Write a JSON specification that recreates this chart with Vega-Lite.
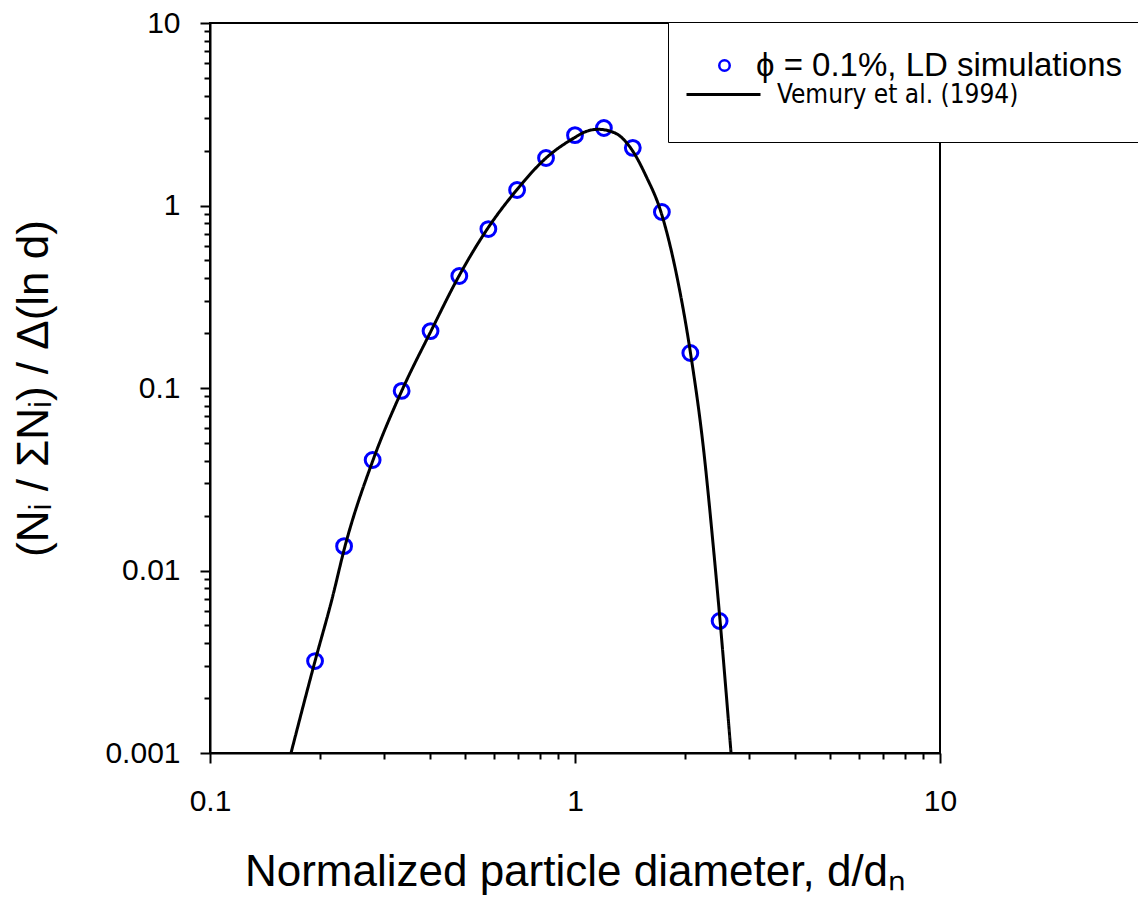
{
  "$schema": "https://vega.github.io/schema/vega-lite/v6.json",
  "width": 730,
  "height": 730,
  "autosize": "none",
  "padding": {"left": 210, "top": 23, "right": 198, "bottom": 146},
  "background": "white",
  "config": {
    "view": {"stroke": "black", "strokeWidth": 2},
    "font": "Liberation Sans, Arial, sans-serif"
  },
  "datasets": {
    "sim": [
      {"d": 0.194, "n": 0.00319, "series": "ϕ = 0.1%, LD simulations"},
      {"d": 0.233, "n": 0.0136, "series": "ϕ = 0.1%, LD simulations"},
      {"d": 0.279, "n": 0.0403, "series": "ϕ = 0.1%, LD simulations"},
      {"d": 0.335, "n": 0.0964, "series": "ϕ = 0.1%, LD simulations"},
      {"d": 0.402, "n": 0.205, "series": "ϕ = 0.1%, LD simulations"},
      {"d": 0.482, "n": 0.411, "series": "ϕ = 0.1%, LD simulations"},
      {"d": 0.579, "n": 0.743, "series": "ϕ = 0.1%, LD simulations"},
      {"d": 0.694, "n": 1.216, "series": "ϕ = 0.1%, LD simulations"},
      {"d": 0.833, "n": 1.82, "series": "ϕ = 0.1%, LD simulations"},
      {"d": 1.0, "n": 2.43, "series": "ϕ = 0.1%, LD simulations"},
      {"d": 1.2, "n": 2.66, "series": "ϕ = 0.1%, LD simulations"},
      {"d": 1.44, "n": 2.07, "series": "ϕ = 0.1%, LD simulations"},
      {"d": 1.73, "n": 0.921, "series": "ϕ = 0.1%, LD simulations"},
      {"d": 2.07, "n": 0.1555, "series": "ϕ = 0.1%, LD simulations"},
      {"d": 2.49, "n": 0.00529, "series": "ϕ = 0.1%, LD simulations"}
    ],
    "fit": [
      {"d": 0.1667, "n": 0.001, "model": "Vemury et al. (1994)"},
      {"d": 0.194, "n": 0.00319, "model": "Vemury et al. (1994)"},
      {"d": 0.2156, "n": 0.00689, "model": "Vemury et al. (1994)"},
      {"d": 0.2344, "n": 0.0136, "model": "Vemury et al. (1994)"},
      {"d": 0.2797, "n": 0.0403, "model": "Vemury et al. (1994)"},
      {"d": 0.3351, "n": 0.0963, "model": "Vemury et al. (1994)"},
      {"d": 0.4031, "n": 0.205, "model": "Vemury et al. (1994)"},
      {"d": 0.481, "n": 0.411, "model": "Vemury et al. (1994)"},
      {"d": 0.5775, "n": 0.753, "model": "Vemury et al. (1994)"},
      {"d": 0.6921, "n": 1.216, "model": "Vemury et al. (1994)"},
      {"d": 0.8313, "n": 1.814, "model": "Vemury et al. (1994)"},
      {"d": 0.9938, "n": 2.344, "model": "Vemury et al. (1994)"},
      {"d": 1.072, "n": 2.544, "model": "Vemury et al. (1994)"},
      {"d": 1.156, "n": 2.615, "model": "Vemury et al. (1994)"},
      {"d": 1.287, "n": 2.496, "model": "Vemury et al. (1994)"},
      {"d": 1.433, "n": 2.014, "model": "Vemury et al. (1994)"},
      {"d": 1.565, "n": 1.451, "model": "Vemury et al. (1994)"},
      {"d": 1.72, "n": 0.921, "model": "Vemury et al. (1994)"},
      {"d": 1.891, "n": 0.432, "model": "Vemury et al. (1994)"},
      {"d": 2.066, "n": 0.1615, "model": "Vemury et al. (1994)"},
      {"d": 2.246, "n": 0.0477, "model": "Vemury et al. (1994)"},
      {"d": 2.393, "n": 0.0135, "model": "Vemury et al. (1994)"},
      {"d": 2.496, "n": 0.00536, "model": "Vemury et al. (1994)"},
      {"d": 2.676, "n": 0.001, "model": "Vemury et al. (1994)"}
    ]
  },
  "encoding": {
    "x": {
      "field": "d",
      "type": "quantitative",
      "scale": {"type": "log", "domain": [0.1, 10], "nice": false},
      "axis": {
        "title": "Normalized particle diameter, d/dₙ",
        "values": [0.1, 0.2, 0.3, 0.4, 0.5, 0.6, 0.7, 0.8, 0.9, 1, 2, 3, 4, 5, 6, 7, 8, 9, 10],
        "format": "~g",
        "labelExpr": "abs(log(datum.value)/LN10 - round(log(datum.value)/LN10)) < 0.000001 ? datum.label : ''",
        "labelOverlap": false,
        "labelFlush": false,
        "labelFont": "Liberation Sans, Arial, sans-serif",
        "labelFontSize": 30,
        "labelColor": "black",
        "labelPadding": 23,
        "tickSize": {"condition": {"test": "abs(log(datum.value)/LN10 - round(log(datum.value)/LN10)) < 0.000001", "value": 10}, "value": 6},
        "tickWidth": 2,
        "tickColor": "black",
        "domainColor": "black",
        "domainWidth": 2,
        "grid": false,
        "titleFont": "Liberation Sans, Arial, sans-serif",
        "titleFontSize": 44,
        "titleFontWeight": "normal",
        "titleColor": "black",
        "titleBaseline": "alphabetic",
        "titleAlign": "center",
        "titleX": 365,
        "titleY": 132
      }
    },
    "y": {
      "field": "n",
      "type": "quantitative",
      "scale": {"type": "log", "domain": [0.001, 10], "nice": false},
      "axis": {
        "title": "(Nᵢ / ΣNᵢ) / Δ(ln d)",
        "values": [0.001, 0.002, 0.003, 0.004, 0.005, 0.006, 0.007, 0.008, 0.009, 0.01, 0.02, 0.03, 0.04, 0.05, 0.06, 0.07, 0.08, 0.09, 0.1, 0.2, 0.3, 0.4, 0.5, 0.6, 0.7, 0.8, 0.9, 1, 2, 3, 4, 5, 6, 7, 8, 9, 10],
        "format": "~g",
        "labelExpr": "abs(log(datum.value)/LN10 - round(log(datum.value)/LN10)) < 0.000001 ? datum.label : ''",
        "labelOverlap": false,
        "labelFlush": false,
        "labelFont": "Liberation Sans, Arial, sans-serif",
        "labelFontSize": 30,
        "labelColor": "black",
        "labelPadding": 20,
        "tickSize": {"condition": {"test": "abs(log(datum.value)/LN10 - round(log(datum.value)/LN10)) < 0.000001", "value": 10}, "value": 6},
        "tickWidth": 2,
        "tickColor": "black",
        "domainColor": "black",
        "domainWidth": 2,
        "grid": false,
        "titleFont": "Liberation Sans, Arial, sans-serif",
        "titleFontSize": 44,
        "titleFontWeight": "normal",
        "titleColor": "black",
        "titleAngle": -90,
        "titleBaseline": "alphabetic",
        "titleAlign": "center",
        "titleX": -163,
        "titleY": 365
      }
    }
  },
  "layer": [
    {
      "data": {"name": "sim"},
      "mark": {"type": "point", "shape": "circle", "filled": false, "size": 220, "strokeWidth": 3, "opacity": 1},
      "encoding": {
        "color": {
          "field": "series",
          "type": "nominal",
          "scale": {"domain": ["ϕ = 0.1%, LD simulations"], "range": ["#0000ff"]},
          "legend": {
            "title": " ",
            "titleOrient": "bottom",
            "titleFontSize": 30,
            "titlePadding": 2,
            "orient": "none",
            "legendX": 458,
            "legendY": -1,
            "padding": 27,
            "fillColor": "white",
            "strokeColor": "black",
            "symbolType": "circle",
            "symbolSize": 110,
            "symbolStrokeWidth": 2.5,
            "symbolOffset": 13,
            "labelOffset": 15,
            "labelFont": "Liberation Sans, Arial, sans-serif",
            "labelFontSize": 33,
            "labelColor": "black",
            "labelLimit": 1000
          }
        }
      }
    },
    {
      "data": {"name": "fit"},
      "mark": {"type": "line", "color": "black", "strokeWidth": 3, "interpolate": "monotone"},
      "encoding": {
        "strokeDash": {
          "field": "model",
          "type": "nominal",
          "scale": {"domain": ["Vemury et al. (1994)"], "range": [[1, 0]]},
          "legend": {
            "title": null,
            "orient": "none",
            "legendX": 475,
            "legendY": 33,
            "padding": 0,
            "symbolType": "stroke",
            "symbolSize": 5476,
            "symbolStrokeWidth": 3,
            "symbolStrokeColor": "black",
            "symbolOffset": 0,
            "labelOffset": 15,
            "labelFont": "DejaVu Sans Condensed, Liberation Sans Narrow, sans-serif",
            "labelFontSize": 26,
            "labelColor": "black",
            "labelLimit": 1000
          }
        }
      }
    }
  ]
}
